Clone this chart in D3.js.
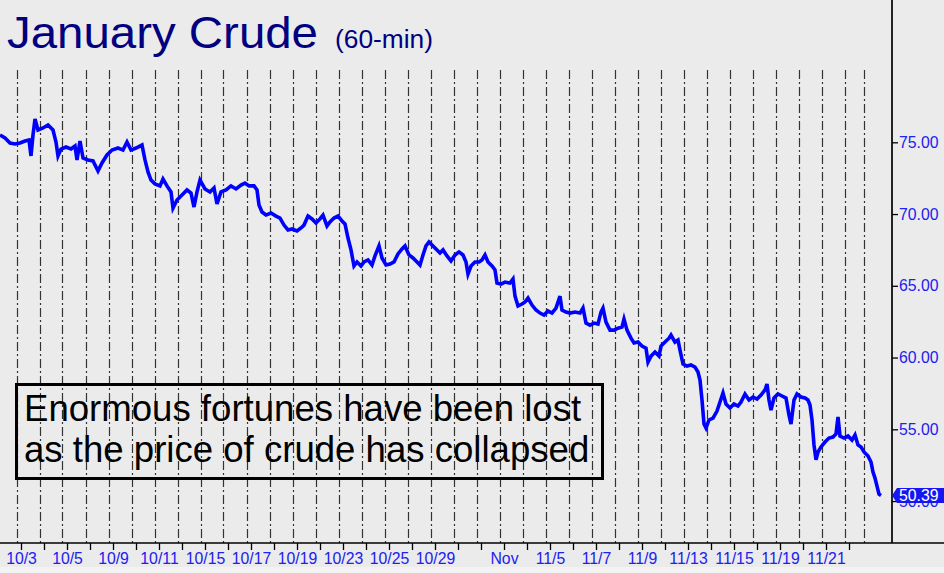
<!DOCTYPE html>
<html><head><meta charset="utf-8">
<script src="https://cdn.jsdelivr.net/npm/d3@7/dist/d3.min.js"></script>
<style>html,body{margin:0;padding:0;background:#ebebeb;overflow:hidden}</style>
</head><body><svg id="c" width="944" height="573"></svg>
<script>
// ---- data (hour index since first bar, price) ----
const hours1 = [0,5,10,15,20,25,29,31,33,35,38,43,48,53,56,58,61,66,71,75,77,80,83,88,93,98,102,107,112,118,123,127,131,136,142,145,148,151,155,160,163,167,171,173,177,182,187,191,194,197,200,205,210,214,217,221,226,231,236,241,245,249,254,257,259,262,266,271,276,280,284,288,292,297,301,304];
const prices1 = [75.51,75.30,74.95,74.88,74.95,75.09,75.16,74.05,75.51,76.62,75.86,76.00,76.21,75.86,75.02,74.05,74.53,74.67,74.53,74.74,73.77,75.09,73.91,73.77,73.70,73.00,73.56,74.12,74.46,74.60,74.46,75.02,74.46,74.60,74.81,73.77,72.93,72.37,72.10,71.96,72.44,71.96,71.54,70.42,70.98,71.33,71.68,71.47,70.49,71.54,72.37,71.75,71.54,71.82,70.70,71.54,71.68,71.96,71.75,72.02,72.16,71.96,71.96,71.68,70.63,70.14,69.93,70.07,69.86,69.72,69.23,68.89,68.96,68.82,69.03,69.23];
const hours2 = [308,312,316,320,323,327,330,334,338,342,345,348,351,354,357,361,364,368,372,375,379,382,386,390,394,398,402,405,409,413,417,420,423,426,429,433,437,440,443,447,451,455,459,463,466,468,471,475,479,482,485,488,492,495,497,501,505,510,513,515,518,522,525,528,532,536,540,544,548,552,556,560,562,566,570,575,580,583,586,590,594,598,601,603,606,610,614,618];
const prices2 = [69.86,69.66,69.38,69.66,69.93,69.17,69.45,69.72,69.86,69.52,69.31,68.33,67.50,66.38,66.66,66.38,66.66,66.80,66.45,67.08,67.78,66.94,66.45,66.52,66.66,67.22,67.57,67.78,67.15,66.94,66.66,66.45,67.15,67.78,68.06,67.78,67.50,67.29,67.50,67.08,66.73,67.15,67.36,67.15,66.66,65.82,66.38,66.66,66.66,66.80,67.15,66.66,66.38,66.10,65.19,65.12,65.26,65.19,65.47,64.28,63.59,63.73,63.87,64.15,63.66,63.31,63.10,62.96,63.24,63.10,63.45,64.28,63.31,63.17,63.10,63.17,63.10,63.45,62.40,62.26,62.40,62.33,63.17,63.45,62.47,61.91,61.91,62.05];
const hours3 = [622,624,627,631,634,638,642,646,648,651,655,659,661,665,669,671,675,678,680,683,687,691,695,698,700,702,704,706,709,713,717,720,723,726,730,734,738,741,745,749,753,757,761,765,767,769,771,774,778,782,786,789,791,794,797,801,805,808,810,812,814,816,818,821,825,829,833,836,838,840,844,848,852,855,858,861,864,868,871,873,875,877,879,881];
const prices3 = [62.12,62.68,61.91,61.35,61.01,61.08,60.80,60.66,59.68,60.10,60.38,60.10,60.80,61.08,61.35,61.57,61.08,61.22,60.52,59.55,59.41,59.48,59.34,58.99,58.43,57.04,55.37,55.09,55.65,55.78,56.27,56.90,57.53,56.76,56.48,56.76,56.62,56.90,57.46,57.04,57.25,57.11,57.39,57.74,58.15,57.04,56.34,57.18,57.46,57.32,57.18,55.99,55.37,57.04,57.46,57.25,57.18,57.04,56.69,55.65,53.91,52.87,53.42,53.77,54.11,54.39,54.46,54.67,55.86,54.53,54.39,54.53,54.25,54.60,53.91,53.77,53.42,53.14,52.72,52.02,51.60,51.04,50.48,50.39];

// one label per trading day (blank = tick only)
const dayLabels = ["10/3","","10/5","","10/9","","10/11","","10/15","","10/17","","10/19","","10/23","","10/25","","10/29","","","Nov","","11/5","","11/7","","11/9","","11/13","","11/15","","11/19","","11/21",""];
const yTicks = [75, 70, 65, 60, 55, 50];
const lastPrice = 50.39;
const titleText = "January Crude";
const subtitleText = "(60-min)";
const noteLines = ["Enormous fortunes have been lost", "as the price of crude has collapsed"];

// ---- layout ----
const W = 944, H = 573;
const axisX = 892, axisY = 543;
const hoursPerDay = 23, firstTickHour = 21, sessionLead = 4.5, extraSessionHour = 863.5;
const FONT = "'Liberation Sans', Arial, sans-serif";
const LABEL_BLUE = "#2020f0";

const svg = d3.select("#c");
svg.append("rect").attr("width", W).attr("height", H).attr("fill", "#ebebeb");

const x = d3.scaleLinear().domain([0, 892]).range([0, axisX]);
const y = d3.scaleLinear().domain([75, 55]).range([142.3, 429.3]);

const tickHours = dayLabels.map((d, i) => firstTickHour + i * hoursPerDay);
const sessionHours = tickHours.map(h => h - sessionLead).concat([extraSessionHour]);

// vertical dash-dot session gridlines
svg.append("g").selectAll("line").data(sessionHours).join("line")
  .attr("x1", d => Math.round(x(d)) + 0.5).attr("x2", d => Math.round(x(d)) + 0.5)
  .attr("y1", 70).attr("y2", axisY)
  .attr("stroke", "#333").attr("stroke-width", 1.2)
  .attr("stroke-dasharray", "9,3,2,3");

// annotation box
const box = svg.append("g");
box.append("rect").attr("x", 16.5).attr("y", 384.5).attr("width", 586).attr("height", 94)
  .attr("fill", "none").attr("stroke", "#000").attr("stroke-width", 3);
box.selectAll("text").data(noteLines).join("text")
  .attr("x", 24).attr("y", (d, i) => 421 + i * 41)
  .attr("font-family", FONT).attr("font-size", 36.6).attr("fill", "#000")
  .text(d => d);

// price line
const pts = [];
[[hours1, prices1], [hours2, prices2], [hours3, prices3]].forEach(([hs, ps]) => hs.forEach((h, i) => pts.push([h, ps[i]])));
svg.append("path").datum(pts)
  .attr("d", d3.line().x(d => x(d[0])).y(d => y(d[1])))
  .attr("fill", "none").attr("stroke", "#0000ff").attr("stroke-width", 3.6)
  .attr("stroke-linejoin", "miter");

// bottom axis
const xAxis = d3.axisBottom(x).tickValues(tickHours).tickFormat((d, i) => dayLabels[i]).tickSize(7).tickPadding(3);
const gx = svg.append("g").attr("transform", `translate(0,${axisY})`).call(xAxis);
gx.select(".domain").remove();
gx.selectAll(".tick line").attr("stroke", "#000").attr("stroke-width", 1.3);
gx.selectAll(".tick text").attr("font-family", FONT).attr("font-size", 15.8).attr("fill", LABEL_BLUE);
svg.append("line").attr("x1", 0).attr("x2", W).attr("y1", axisY).attr("y2", axisY)
  .attr("stroke", "#000").attr("stroke-width", 1.5);

// right axis
const yAxis = d3.axisRight(y).tickValues(yTicks).tickFormat(d3.format(".2f")).tickSize(6).tickPadding(1);
const gy = svg.append("g").attr("transform", `translate(${axisX},0)`).call(yAxis);
gy.select(".domain").remove();
gy.selectAll(".tick line").attr("stroke", "#000").attr("stroke-width", 1.3);
gy.selectAll(".tick text").attr("font-family", FONT).attr("font-size", 15.8).attr("fill", LABEL_BLUE);
svg.append("line").attr("x1", axisX).attr("x2", axisX).attr("y1", 0).attr("y2", axisY)
  .attr("stroke", "#000").attr("stroke-width", 1.7);

// last price tag
const yc = y(lastPrice);
svg.append("path")
  .attr("d", `M${axisX},${yc} L${axisX + 5},${yc - 7.5} L${W},${yc - 7.5} L${W},${yc + 7.5} L${axisX + 5},${yc + 7.5} Z`)
  .attr("fill", "#1616f5");
svg.append("text").attr("x", 899).attr("y", yc).attr("dy", "0.35em")
  .attr("font-family", FONT).attr("font-size", 15.8).attr("fill", "#fff")
  .text(d3.format(".2f")(lastPrice));

// title
svg.append("text").attr("x", 7).attr("y", 48)
  .attr("font-family", FONT).attr("font-size", 45).attr("fill", "#000080")
  .attr("textLength", 311).attr("lengthAdjust", "spacingAndGlyphs").text(titleText);
svg.append("text").attr("x", 335).attr("y", 48)
  .attr("font-family", FONT).attr("font-size", 25).attr("fill", "#000080")
  .attr("textLength", 98).attr("lengthAdjust", "spacingAndGlyphs").text(subtitleText);

// bottom strip
svg.append("rect").attr("x", 0).attr("y", 567).attr("width", W).attr("height", 6).attr("fill", "#f3f3f3");
</script></body></html>
